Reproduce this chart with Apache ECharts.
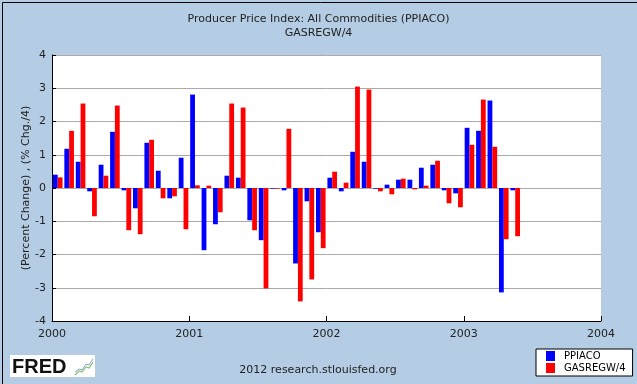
<!DOCTYPE html>
<html>
<head>
<meta charset="utf-8">
<script src="https://cdn.jsdelivr.net/npm/echarts@6/dist/echarts.min.js"></script>
<style>
html,body{margin:0;padding:0;background:#b4cde4;}
#c{width:637px;height:384px;}
</style>
</head>
<body>
<div id="c"></div>
<script>
// Monthly categories Jan 2000 .. Dec 2003
const months = [];
for (let y = 2000; y <= 2003; y++) for (let m = 1; m <= 12; m++) months.push(y + '-' + String(m).padStart(2, '0'));

// PPIACO, percent change (Jan 2000 .. May 2003)
const ppiaco = [0.40, 1.18, 0.79, -0.10, 0.70, 1.69, -0.07, -0.61, 1.36, 0.52, -0.31, 0.91,
  2.81, -1.87, -1.09, 0.37, 0.31, -0.97, -1.57, -0.02, -0.07, -2.27, -0.40, -1.33,
  0.31, -0.10, 1.09, 0.79, -0.02, 0.10, 0.25, 0.25, 0.61, 0.70, -0.07, -0.16,
  1.81, 1.72, 2.63, -3.14, -0.07];
// GASREGW/4, percent change / 4
const gasregw = [0.32, 1.72, 2.54, -0.85, 0.37, 2.48, -1.27, -1.39, 1.45, -0.31, -0.25, -1.24,
  0.08, 0.07, -0.73, 2.54, 2.42, -1.27, -3.02, -0.02, 1.78, -3.41, -2.75, -1.81,
  0.49, 0.16, 3.05, 2.96, -0.10, -0.19, 0.28, -0.04, 0.07, 0.82, -0.46, -0.58,
  1.30, 2.66, 1.24, -1.54, -1.45];
const yearTicks = [2000, 2001, 2002, 2003, 2004];
const seriesNames = ['PPIACO', 'GASREGW/4'];

const chart = echarts.init(document.getElementById('c'), null, {renderer: 'canvas'});
const font = 'DejaVu Sans';
chart.setOption({
  backgroundColor: '#b4cde4',
  animation: false,
  textStyle: {fontFamily: font},
  title: {
    text: 'Producer Price Index: All Commodities (PPIACO)\nGASREGW/4',
    left: 'center', top: 7,
    textStyle: {fontSize: 11, fontWeight: 'normal', color: '#222', lineHeight: 14, fontFamily: font}
  },
  legend: {
    orient: 'vertical', left: 536, top: 349,
    padding: [2, 7, 3, 10],
    backgroundColor: '#fff', borderColor: '#000', borderWidth: 1,
    itemWidth: 9, itemHeight: 10, itemGap: 2, icon: 'rect',
    textStyle: {fontSize: 10, color: '#000', fontFamily: font, padding: [0, 0, 0, 4]},
    data: seriesNames
  },
  grid: {left: 52, right: 36, top: 55, bottom: 63, show: true, backgroundColor: '#fff', borderWidth: 0},
  xAxis: [{
    type: 'category', data: months, position: 'top', show: false, boundaryGap: true
  }, {
    type: 'value', min: 2000, max: 2004, interval: 1, position: 'bottom',
    axisLine: {show: true, onZero: false, lineStyle: {color: '#000', width: 1}},
    axisTick: {show: true, inside: true, length: 5, lineStyle: {color: '#000'}},
    axisLabel: {fontSize: 11, color: '#222', margin: 8, fontFamily: font,
      formatter: v => yearTicks.includes(v) ? String(v) : ''},
    splitLine: {show: false}
  }],
  yAxis: {
    type: 'value', min: -4, max: 4, interval: 1,
    name: '(Percent Change) , (% Chg./4)', nameLocation: 'middle', nameGap: 20,
    nameMoveOverlap: false,
    nameTextStyle: {fontSize: 11, color: '#222', fontFamily: font},
    axisLine: {show: true, lineStyle: {color: '#000', width: 1}},
    axisTick: {show: true, inside: true, length: 4, lineStyle: {color: '#000'}},
    axisLabel: {fontSize: 11, color: '#222', margin: 6, fontFamily: font},
    splitLine: {show: true, lineStyle: {color: '#aaa', width: 1}}
  },
  series: [{
    name: seriesNames[0], type: 'bar', xAxisIndex: 0, data: ppiaco,
    barWidth: 4.8, barGap: '0%', itemStyle: {color: '#0000ff'}
  }, {
    name: seriesNames[1], type: 'bar', xAxisIndex: 0, data: gasregw,
    barWidth: 4.8, barGap: '0%', itemStyle: {color: '#ff0000'}
  }],
  graphic: [
    {type: 'rect', left: 0, top: 0, shape: {x: 0.5, y: 0.5, width: 636, height: 383},
      style: {fill: 'none', stroke: '#000', lineWidth: 1}, silent: true, z: 100},
    {type: 'rect', shape: {x: 10, y: 355, width: 85, height: 22}, style: {fill: '#fff'}},
    {type: 'text', x: 12, y: 357, style: {text: 'FRED', font: 'bold 20px "Liberation Sans", Arial', fill: '#111'}},
    {type: 'polyline', shape: {points: [[75, 375], [79, 371], [82, 372], [86, 367], [89, 368], [93, 362]]},
      style: {stroke: '#8bbf6a', lineWidth: 1.2, fill: 'none'}},
    {type: 'polyline', shape: {points: [[75, 372], [79, 369], [82, 370], [86, 364], [89, 365], [93, 359]]},
      style: {stroke: '#7ba6d6', lineWidth: 1, fill: 'none'}},
    {type: 'text', x: 318, y: 365, style: {text: '2012 research.stlouisfed.org', font: '11px "DejaVu Sans"', fill: '#222', align: 'center'}}
  ]
});
</script>
</body>
</html>
